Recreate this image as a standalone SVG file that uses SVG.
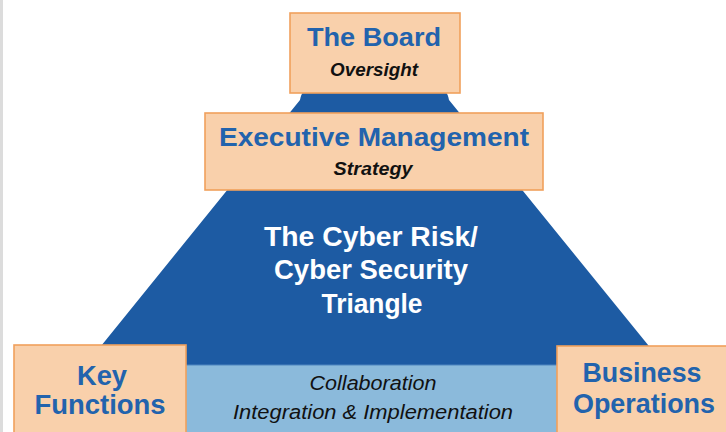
<svg xmlns="http://www.w3.org/2000/svg" width="726" height="432" viewBox="0 0 726 432">
<style>
.box{fill:#f9d0ab;stroke:#f0a05c;stroke-width:1.6}
.title{font-family:"Liberation Sans",Arial,sans-serif;font-weight:bold;fill:#2263ad;text-anchor:middle}
.sub{font-family:"Liberation Sans",Arial,sans-serif;font-weight:bold;font-style:italic;fill:#111;text-anchor:middle}
.tri{font-family:"Liberation Sans",Arial,sans-serif;font-weight:bold;fill:#fff;text-anchor:middle;font-size:27px}
.band{font-family:"Liberation Sans",Arial,sans-serif;font-style:italic;fill:#111;text-anchor:middle;font-size:20px}
</style>
<rect x="0" y="0" width="726" height="432" fill="#fff"/>
<rect x="0" y="0" width="3" height="432" fill="#dcdcdc"/>
<g id="triangle">
<path d="M300,100 Q302,88 312,88 L437,88 Q447,88 449,100 L670,372 L80,372 Z" fill="#1d5ba3"/>
<text class="tri" x="371" y="246" textLength="214" lengthAdjust="spacingAndGlyphs">The Cyber Risk/</text>
<text class="tri" x="371" y="279" textLength="194" lengthAdjust="spacingAndGlyphs">Cyber Security</text>
<text class="tri" x="372" y="313" textLength="101" lengthAdjust="spacingAndGlyphs">Triangle</text>
</g>
<g id="collaboration">
<rect x="186" y="365" width="371" height="70" fill="#8bbadb"/>
<line x1="186" y1="365" x2="557" y2="365" stroke="#4f86bf" stroke-width="1.2"/>
<text class="band" x="373" y="390" textLength="127" lengthAdjust="spacingAndGlyphs">Collaboration</text>
<text class="band" x="373" y="419" textLength="280" lengthAdjust="spacingAndGlyphs">Integration &amp; Implementation</text>
</g>
<g id="board">
<rect class="box" x="290" y="13" width="170" height="80"/>
<text class="title" x="374" y="46" font-size="26" textLength="134" lengthAdjust="spacingAndGlyphs">The Board</text>
<text class="sub" x="374" y="76" font-size="18" textLength="88" lengthAdjust="spacingAndGlyphs">Oversight</text>
</g>
<g id="executive">
<rect class="box" x="205" y="113" width="338" height="77"/>
<text class="title" x="374" y="146" font-size="25" textLength="310" lengthAdjust="spacingAndGlyphs">Executive Management</text>
<text class="sub" x="373" y="175" font-size="18" textLength="79" lengthAdjust="spacingAndGlyphs">Strategy</text>
</g>
<g id="key-functions">
<rect class="box" x="14" y="345" width="172" height="95"/>
<text class="title" x="102" y="385" font-size="28" textLength="50" lengthAdjust="spacingAndGlyphs">Key</text>
<text class="title" x="100" y="414" font-size="28" textLength="131" lengthAdjust="spacingAndGlyphs">Functions</text>
</g>
<g id="business-operations">
<rect class="box" x="557" y="346" width="175" height="95"/>
<text class="title" x="642" y="382" font-size="28" textLength="119" lengthAdjust="spacingAndGlyphs">Business</text>
<text class="title" x="644" y="413" font-size="28" textLength="142" lengthAdjust="spacingAndGlyphs">Operations</text>
</g>
</svg>
